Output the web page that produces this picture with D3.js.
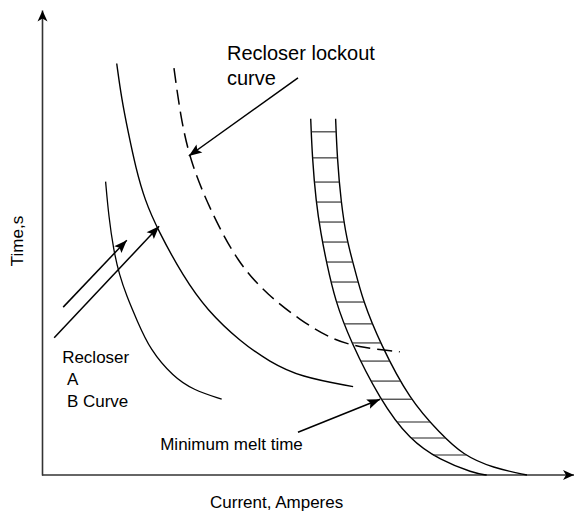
<!DOCTYPE html>
<html><head><meta charset="utf-8">
<script src="https://cdn.jsdelivr.net/npm/d3@7"></script>
<style>
body{margin:0;background:#fff}
text{font-family:"Liberation Sans",Arial,Helvetica,sans-serif;fill:#000}
</style>
</head><body>
<svg id="c" width="575" height="514"></svg>
<script>
// ---- data (current, time) in relative units ----
const recloserA = [[12.0,63.1],[12.6,55.5],[13.5,48.4],[14.6,43.0],[16.0,38.4],[17.9,33.3],[20.4,26.9],[24.8,21.1],[28.5,18.3],[33.9,16.3]];
const recloserB = [[14.1,88.5],[15.0,81.0],[16.3,73.5],[17.7,66.0],[19.4,59.1],[21.9,52.6],[26.7,42.6],[31.1,35.5],[37.4,28.7],[43.0,24.3],[48.7,21.1],[58.7,19.0]];
const lockout   = [[24.9,87.5],[26.1,77.4],[27.9,67.7],[31.7,57.0],[37.0,45.5],[42.6,38.7],[48.7,33.3],[54.9,29.0],[60.6,27.3],[67.5,26.5]];
const meltLeft  = [[50.7,76.6],[51.0,68.2],[51.7,58.8],[52.6,52.0],[53.7,45.6],[55.3,37.6],[58.1,29.0],[63.8,16.1],[69.4,7.5],[75.1,3.2],[81.4,0.4],[83.9,0]];
const meltRight = [[55.4,76.6],[55.7,68.2],[56.4,58.8],[57.5,50.5],[58.9,44.8],[60.5,37.6],[63.8,28.3],[69.4,16.1],[75.1,9.0],[79.4,4.3],[85.1,1.5],[91.5,0]];
const hatchTimes = [73.8,68.2,63.0,58.7,54.4,50.1,45.8,41.5,37.2,32.5,28.4,24.5,20.2,16.3,11.4,7.96,4.3];
// arrows: [from, to]
const arrows = [
  [[48.3,85.4],[27.7,68.6]],
  [[4.0,36.1],[16.0,50.5]],
  [[2.3,29.5],[22.1,53.5]],
  [[48.3,9.2],[63.8,16.3]]
];
const labels = [
  {t:"Recloser lockout", p:[34.9,89.2], s:20},
  {t:"curve", p:[34.9,83.9], s:20},
  {t:"Recloser", p:[3.8,24.1], s:17},
  {t:"A", p:[4.7,19.4], s:17},
  {t:"B Curve", p:[4.7,14.7], s:17},
  {t:"Minimum melt time", p:[22.3,5.4], s:17}
];
const xTitle = "Current, Amperes";
const yTitle = "Time,s";

const svg = d3.select("#c");
const x = d3.scaleLinear().domain([0,100]).range([42,572]);
const y = d3.scaleLinear().domain([0,100]).range([475,10]);

const defs = svg.append("defs");
defs.append("marker").attr("id","axhead").attr("markerUnits","userSpaceOnUse")
  .attr("viewBox","-12 -7 13 14").attr("refX",0).attr("refY",0)
  .attr("markerWidth",13).attr("markerHeight",14).attr("orient","auto")
  .append("path").attr("d","M0,0L-11,-5L-8,0L-11,5Z").attr("fill","#000");
defs.append("marker").attr("id","head").attr("markerUnits","userSpaceOnUse")
  .attr("viewBox","-14 -6 15 12").attr("refX",0).attr("refY",0)
  .attr("markerWidth",15).attr("markerHeight",12).attr("orient","auto")
  .append("path").attr("d","M0,0L-13,-5L-10.5,0L-13,5Z").attr("fill","#000");

// axes (no ticks)
const xAxis = svg.append("g").attr("transform",`translate(0,${y(0)})`)
  .call(d3.axisBottom(x).tickValues([]).tickSizeOuter(0));
const yAxis = svg.append("g").attr("transform",`translate(${x(0)},0)`)
  .call(d3.axisLeft(y).tickValues([]).tickSizeOuter(0));
[xAxis,yAxis].forEach(g=>g.select(".domain").attr("stroke","#333").attr("stroke-width",1.6).attr("marker-end","url(#axhead)"));
xAxis.select(".domain").attr("d",`M${x(0)},0H${x(100)+2}`);

const line = d3.line().x(d=>x(d[0])).y(d=>y(d[1])).curve(d3.curveBasis);

function drawCurve(data, opts={}) {
  return svg.append("path").datum(data).attr("d",line).attr("fill","none")
    .attr("stroke","#000").attr("stroke-width",opts.w||1.4)
    .attr("stroke-dasharray",opts.dash||null);
}
drawCurve(recloserA,{w:1.3});
drawCurve(recloserB,{w:1.4});
drawCurve(lockout,{w:1.5,dash:"15,7"});
const pl = drawCurve(meltLeft,{w:1.4});
const pr = drawCurve(meltRight,{w:1.4});

function sampler(node){
  const L=node.getTotalLength(), pts=[];
  for(let l=0;l<=L;l+=0.5) pts.push(node.getPointAtLength(l));
  return function(py){
    for(let i=1;i<pts.length;i++){
      const a=pts[i-1], b=pts[i];
      if((a.y-py)*(b.y-py)<=0){
        const t = b.y===a.y?0:(py-a.y)/(b.y-a.y);
        return a.x + t*(b.x-a.x);
      }
    }
    return null;
  };
}
const sl = sampler(pl.node()), sr = sampler(pr.node());
svg.append("g").selectAll("line").data(hatchTimes).join("line")
  .attr("x1",d=>sl(y(d))).attr("x2",d=>sr(y(d)))
  .attr("y1",d=>y(d)).attr("y2",d=>y(d))
  .attr("stroke","#222").attr("stroke-width",1.1);

svg.append("g").selectAll("line").data(arrows).join("line")
  .attr("x1",d=>x(d[0][0])).attr("y1",d=>y(d[0][1]))
  .attr("x2",d=>x(d[1][0])).attr("y2",d=>y(d[1][1]))
  .attr("stroke","#000").attr("stroke-width",1.5).attr("marker-end","url(#head)");

svg.append("g").selectAll("text").data(labels).join("text")
  .attr("x",d=>x(d.p[0])).attr("y",d=>y(d.p[1]))
  .attr("font-size",d=>d.s).text(d=>d.t);

svg.append("text").attr("x",210).attr("y",508).attr("font-size",17).text(xTitle);
svg.append("text").attr("transform","translate(23,241) rotate(-90)")
  .attr("text-anchor","middle").attr("font-size",17).text(yTitle);
</script>
</body></html>
